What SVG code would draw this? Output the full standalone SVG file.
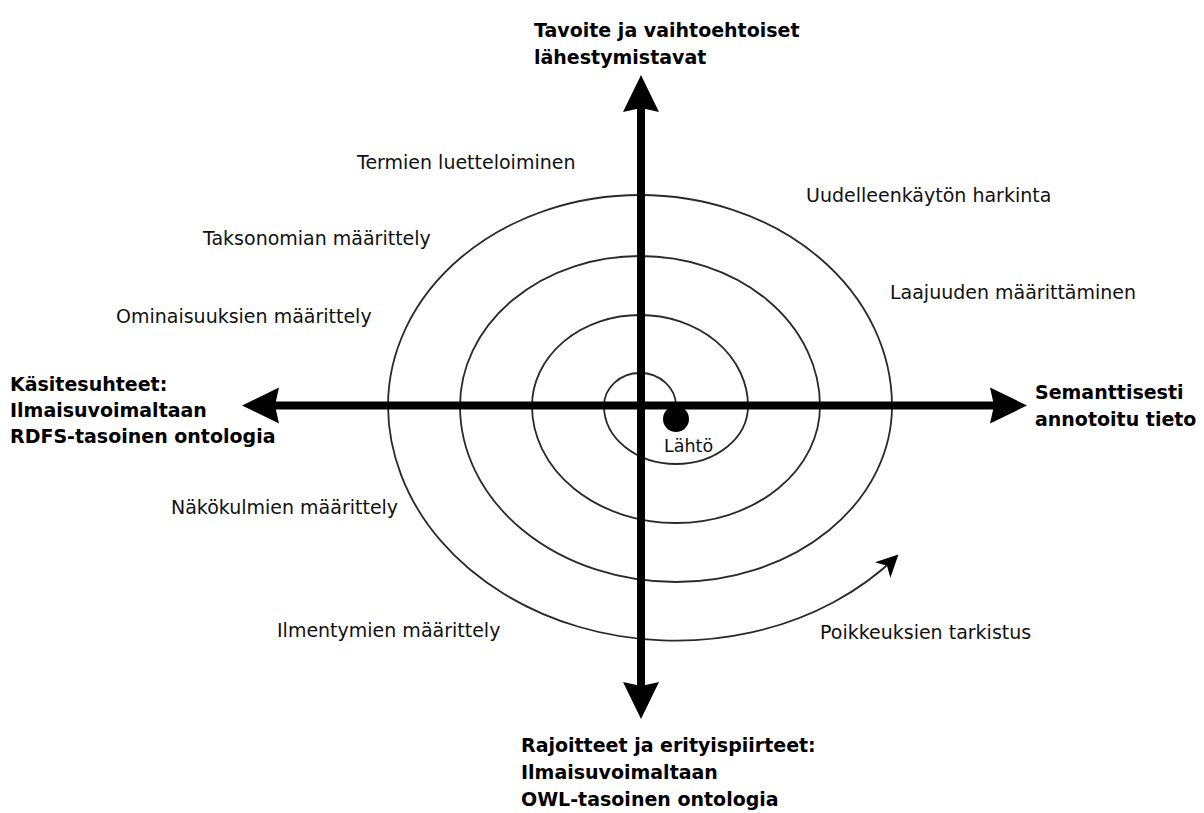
<svg xmlns="http://www.w3.org/2000/svg" width="1204" height="813" viewBox="0 0 1204 813">
  <style>
    .lbl { font-family: "DejaVu Sans", "Liberation Sans", sans-serif; font-size: 19px; fill: #111; }
    .ax { font-family: "DejaVu Sans", "Liberation Sans", sans-serif; font-size: 19px; font-weight: bold; fill: #000; }
    .axis { stroke: #000; stroke-width: 8; fill: none; }
    .spiral { stroke: #2a2a2a; stroke-width: 1.8; fill: none; }
  </style>
  <defs>
    <!-- heavy notched head for the four axes; ref point sits in the notch -->
    <marker id="axHead" markerUnits="userSpaceOnUse" viewBox="-6 -20 42 40" markerWidth="42" markerHeight="40" refX="0" refY="0" orient="auto-start-reverse">
      <path d="M33,0 L-4,-18 L0,0 L-4,18 Z" fill="#000"/>
    </marker>
    <!-- small stealth head at the outer end of the spiral -->
    <marker id="spHead" markerUnits="userSpaceOnUse" viewBox="-22 -13 26 26" markerWidth="26" markerHeight="26" refX="0" refY="0" orient="auto">
      <path d="M2,0 L-20,-11 L-14,0 L-20,11 Z" fill="#000"/>
    </marker>
  </defs>

  <rect width="1204" height="813" fill="#fff"/>

  <g id="connectors">
    <!-- spiral: upper half-ellipses centred at x=640, lower ones at x=676 -->
    <path id="spiral" class="spiral" marker-end="url(#spHead)"
      d="M676,406
         A36,33 0 0 0 604,406
         A72,58 0 0 0 748,406
         A108,91 0 0 0 532,406
         A144,117 0 0 0 820,406
         A180,150 0 0 0 460,406
         A216,176 0 0 0 892,406
         A252,211 0 0 0 388,406
         A288,236 0 0 0 897,556"/>
    <!-- axes -->
    <line id="axis-v" class="axis" x1="641" y1="686" x2="641" y2="108" marker-start="url(#axHead)" marker-end="url(#axHead)"/>
    <line id="axis-h" class="axis" x1="275" y1="405.5" x2="994" y2="405.5" marker-start="url(#axHead)" marker-end="url(#axHead)"/>
  </g>

  <g id="start">
    <circle cx="676" cy="419" r="13" fill="#000"/>
    <text class="lbl" x="664" y="452" style="font-size:17.5px">Lähtö</text>
  </g>

  <g id="axis-top">
    <text class="ax" x="534" y="37">Tavoite ja vaihtoehtoiset</text>
    <text class="ax" x="534" y="64">lähestymistavat</text>
  </g>
  <g id="axis-left">
    <text class="ax" x="10" y="391">Käsitesuhteet:</text>
    <text class="ax" x="10" y="417">Ilmaisuvoimaltaan</text>
    <text class="ax" x="10" y="443">RDFS-tasoinen ontologia</text>
  </g>
  <g id="axis-right">
    <text class="ax" x="1035" y="399">Semanttisesti</text>
    <text class="ax" x="1035" y="426">annotoitu tieto</text>
  </g>
  <g id="axis-bottom">
    <text class="ax" x="521" y="752">Rajoitteet ja erityispiirteet:</text>
    <text class="ax" x="521" y="779">Ilmaisuvoimaltaan</text>
    <text class="ax" x="521" y="806">OWL-tasoinen ontologia</text>
  </g>

  <g id="steps">
    <text id="s-termit" class="lbl" x="357" y="169">Termien luetteloiminen</text>
    <text id="s-uudelleenkaytto" class="lbl" x="806" y="202">Uudelleenkäytön harkinta</text>
    <text id="s-taksonomia" class="lbl" x="203" y="245">Taksonomian määrittely</text>
    <text id="s-laajuus" class="lbl" x="890" y="299">Laajuuden määrittäminen</text>
    <text id="s-ominaisuudet" class="lbl" x="116" y="323">Ominaisuuksien määrittely</text>
    <text id="s-nakokulmat" class="lbl" x="171" y="514">Näkökulmien määrittely</text>
    <text id="s-ilmentymat" class="lbl" x="277" y="637">Ilmentymien määrittely</text>
    <text id="s-poikkeukset" class="lbl" x="820" y="639">Poikkeuksien tarkistus</text>
  </g>
</svg>
